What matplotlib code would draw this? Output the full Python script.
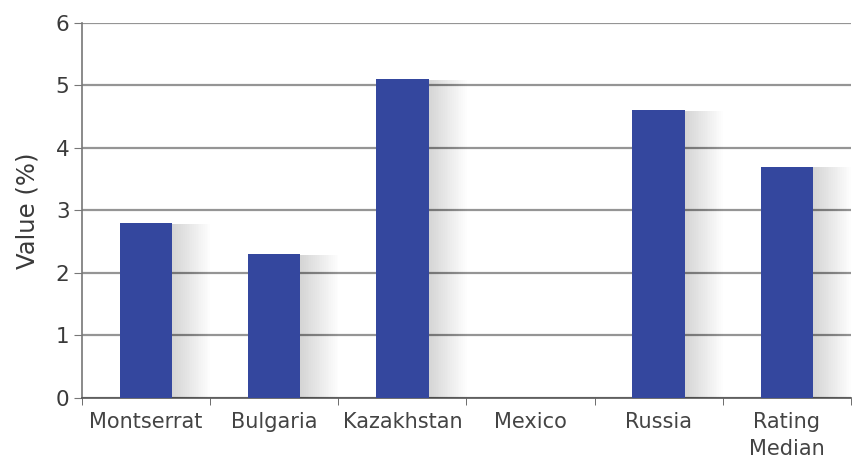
import matplotlib
matplotlib.use("Agg")
import matplotlib.pyplot as plt
import matplotlib.patheffects as pe
import numpy as np

# Datos
categorias = ["Montserrat", "Bulgaria", "Kazakhstan", "Mexico", "Russia", "Rating\nMedian"]
valores = [2.8, 2.3, 5.1, 0.0, 4.6, 3.7]
y_ticks = [0, 1, 2, 3, 4, 5, 6]

color_barra = "#34479e"
color_texto = "#3a3a3a"

plt.rcParams["font.family"] = ["DejaVu Sans"]

fig = plt.figure(figsize=(8.52, 4.66), dpi=100)
ax = fig.add_axes([0.0962, 0.146, 0.9025, 0.805])

x = np.arange(len(categorias))

# Sombra difusa a la derecha de cada barra
efectos = []
for k in range(1, 22):
    efectos.append(pe.SimplePatchShadow(offset=(k * 1.3, -0.5), shadow_rgbFace="#000000", alpha=0.009))
efectos.append(pe.Normal())

barras = ax.bar(x, valores, width=0.41, color=color_barra, zorder=3)
for b in barras:
    b.set_path_effects(efectos)

ax.set_xlim(-0.5, len(categorias) - 0.5)
ax.set_ylim(0, 6)
ax.set_yticks(y_ticks)
ax.set_xticks(x)
ax.set_xticklabels(categorias, linespacing=1.45)
ax.set_xticks(np.arange(-0.5, len(categorias)), minor=True)

ax.grid(axis="y", color="#959595", linewidth=1.6, zorder=0)
ax.set_axisbelow(True)

for s in ["top", "right"]:
    ax.spines[s].set_visible(False)
ax.spines["left"].set_color("#777777")
ax.spines["bottom"].set_color("#555555")
ax.spines["left"].set_linewidth(1.2)
ax.spines["bottom"].set_linewidth(1.2)

ax.tick_params(axis="y", length=6, color="#777777", labelsize=15.5, labelcolor=color_texto, pad=3)
ax.tick_params(axis="x", which="major", length=0, labelsize=15, labelcolor="#444444", pad=10)
ax.tick_params(axis="x", which="minor", length=5, color="#555555")

ax.set_ylabel("Value (%)", fontsize=17.5, color=color_texto, labelpad=12)

fig.savefig("out.png", dpi=100)
